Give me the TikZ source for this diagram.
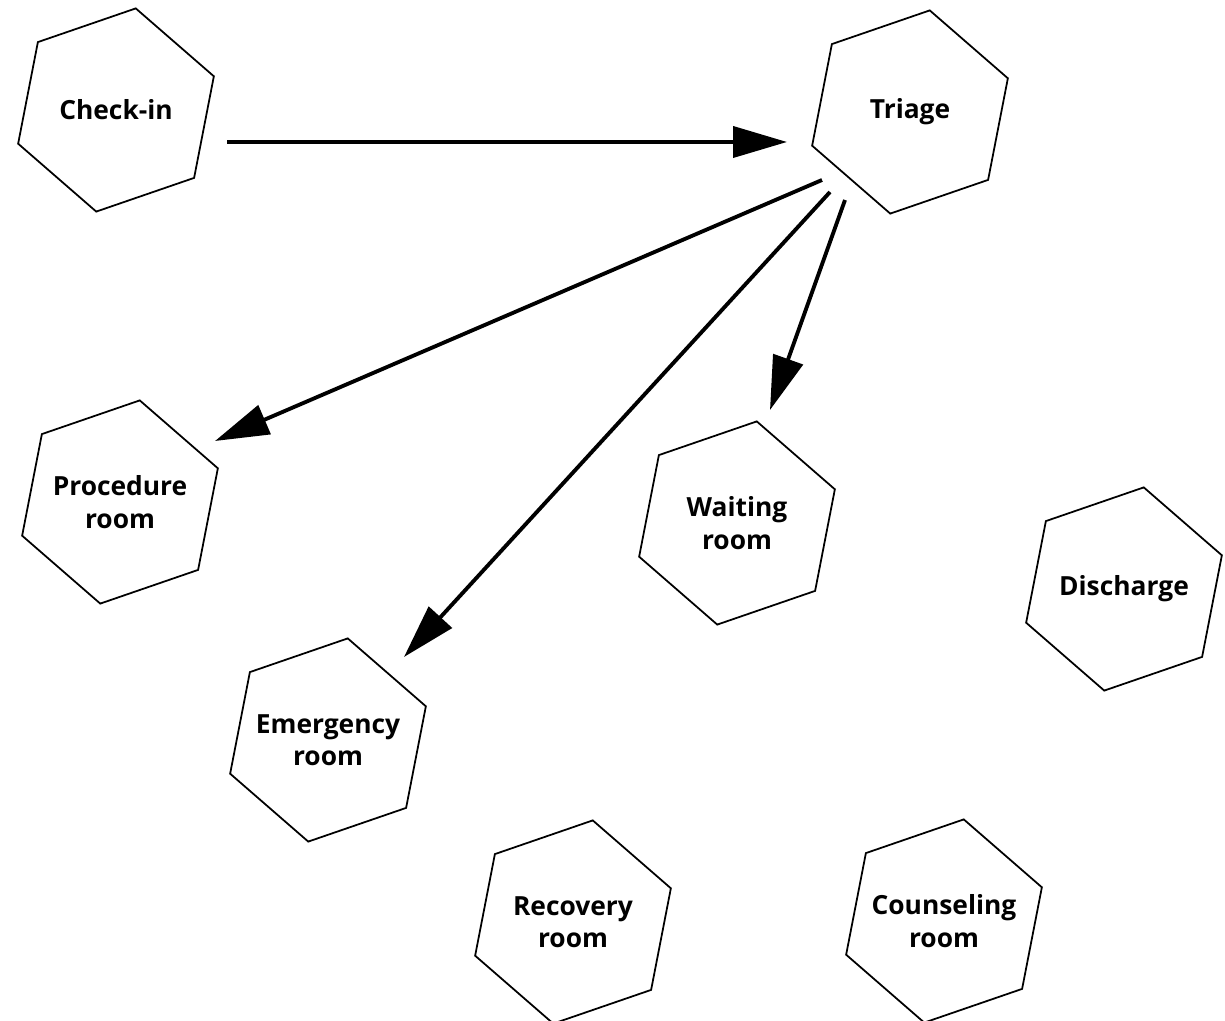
\documentclass[tikz,border=0pt]{standalone}
\usepackage{fontspec}
\setmainfont{Open Sans}
\usepackage{tikz}
\usetikzlibrary{arrows.meta,shapes.geometric,calc}

\tikzset{
	room/.style={draw, line width=1pt, regular polygon, regular polygon sides=6,
		regular polygon rotate=19, minimum size=4.14cm, inner sep=-8pt,
		align=center, font=\fontsize{15}{18.5}\selectfont\bfseries},
	flow/.style={line width=2.2pt, -{Triangle[length=1.08cm, width=0.62cm]}}
}

\begin{document}
\begin{tikzpicture}
	\useasboundingbox (0,0) rectangle (24.5,20.4);
	\node[room] (checkin)    at (2.32,18.2)  {Check-in};
	\node[room] (triage)     at (18.2,18.16) {Triage};
	\node[room] (procedure)  at (2.4,10.36)  {Procedure\\room};
	\node[room] (waiting)    at (14.74,9.94) {Waiting\\room};
	\node[room] (discharge)  at (22.48,8.62) {Discharge};
	\node[room] (emergency)  at (6.56,5.6)   {Emergency\\room};
	\node[room] (recovery)   at (11.46,1.96) {Recovery\\room};
	\node[room] (counseling) at (18.88,1.98) {Counseling\\room};

	\draw[flow] ($(checkin)+(2.22,-0.64)$) -- ($(triage)+(-2.46,-0.6)$);
	\draw[flow] ($(triage)+(-1.76,-1.36)$) -- ($(procedure)+(1.9,1.22)$);
	\draw[flow] ($(triage)+(-1.6,-1.6)$)   -- ($(emergency)+(1.52,1.66)$);
	\draw[flow] ($(triage)+(-1.3,-1.76)$)  -- ($(waiting)+(0.66,2.26)$);
%	\draw[flow] (triage) -- (discharge);
\end{tikzpicture}
\end{document}
